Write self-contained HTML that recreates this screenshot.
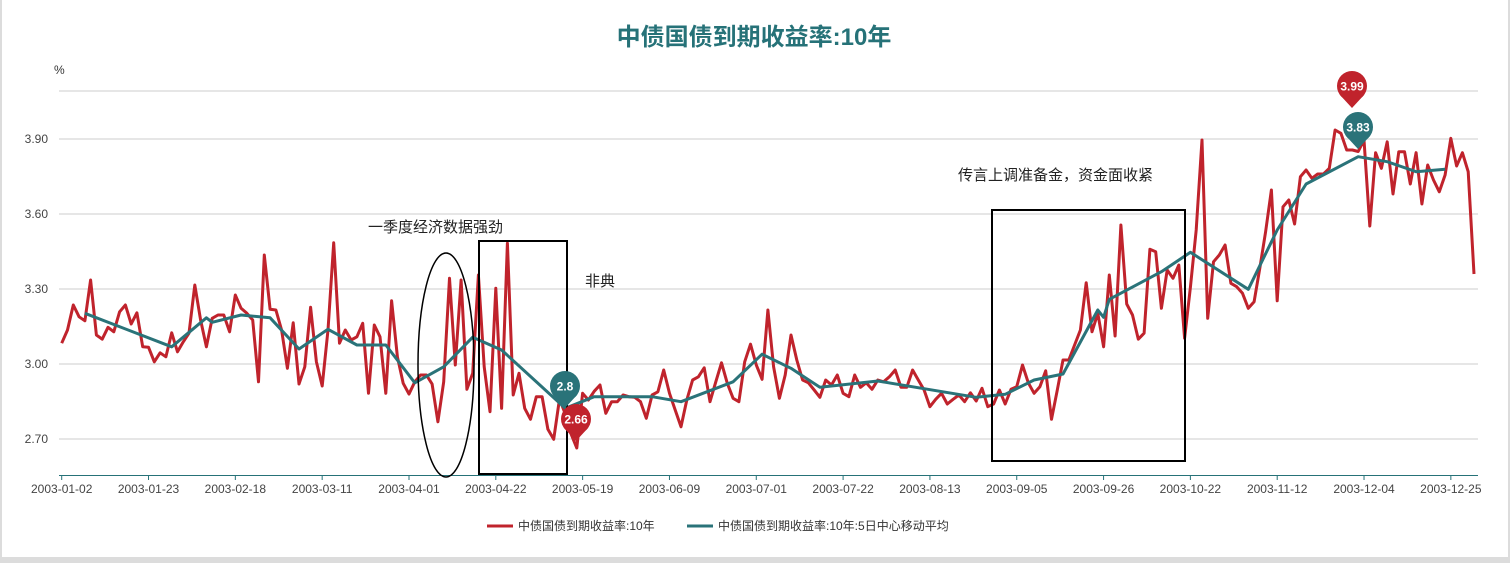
<!DOCTYPE html>
<html><head><meta charset="utf-8"><style>
body{margin:0;background:#fff;}
#wrap{position:relative;width:1510px;height:563px;background:#dcdcdc;}
#card{position:absolute;left:2px;top:0;width:1506px;height:557px;background:#fff;}
svg{position:absolute;left:0;top:0;}
text{font-family:"Liberation Sans","Noto Sans CJK SC",sans-serif;}
</style></head><body>
<div id="wrap"><div id="card"></div>
<svg id="chart" width="1510" height="563"></svg></div>
<script>
const xLabels=["2003-01-02","2003-01-23","2003-02-18","2003-03-11","2003-04-01","2003-04-22","2003-05-19","2003-06-09","2003-07-01","2003-07-22","2003-08-13","2003-09-05","2003-09-26","2003-10-22","2003-11-12","2003-12-04","2003-12-25"];
const yTicks=[2.70,3.00,3.30,3.60,3.90];
const yieldVals=[3.083,3.136,3.236,3.189,3.173,3.336,3.116,3.099,3.147,3.129,3.209,3.236,3.160,3.205,3.069,3.067,3.009,3.045,3.029,3.125,3.049,3.089,3.123,3.316,3.176,3.069,3.183,3.196,3.196,3.129,3.276,3.223,3.203,3.176,2.929,3.436,3.219,3.216,3.136,2.983,3.165,2.920,2.989,3.227,3.009,
2.912,3.136,3.485,3.083,3.136,3.096,3.109,3.163,2.883,3.156,3.109,2.883,3.253,3.029,2.923,2.880,2.929,2.956,2.956,2.920,2.769,2.929,3.343,2.996,3.336,2.899,2.963,3.356,2.989,2.809,3.303,2.823,3.483,2.876,2.963,2.823,2.779,2.869,2.869,2.739,2.699,2.86,2.80,2.72,2.664,2.883,2.856,2.891,
2.916,2.803,2.849,2.849,2.876,2.869,2.867,2.849,2.783,2.876,2.889,2.976,2.883,2.816,2.749,2.856,2.936,2.949,2.985,2.849,2.929,3.005,2.923,2.863,2.849,3.009,3.079,2.996,2.939,3.216,2.989,2.863,2.956,3.116,3.016,2.936,2.925,2.896,2.867,2.936,2.916,2.956,2.883,2.869,2.956,2.907,2.925,2.899,2.936,
2.929,2.949,2.976,2.907,2.907,2.976,2.936,2.896,2.829,2.859,2.883,2.840,2.859,2.876,2.849,2.885,2.852,2.903,2.829,2.840,2.896,2.840,2.899,2.909,2.996,2.925,2.883,2.909,2.973,2.779,2.896,3.016,3.016,3.076,3.136,3.325,3.129,3.203,3.069,3.356,3.112,3.556,3.240,3.196,3.099,3.123,3.459,3.449,3.223,3.376,3.343,3.396,3.103,3.307,
3.536,3.896,3.183,3.409,3.436,3.476,3.323,3.309,3.283,3.223,3.249,3.383,3.529,3.696,3.253,3.629,3.656,3.560,3.749,3.776,3.743,3.760,3.760,3.783,3.936,3.923,3.856,3.856,3.85,3.896,3.552,3.845,3.783,3.889,3.680,3.849,3.849,3.720,3.845,3.640,3.796,3.736,3.689,3.756,3.903,3.792,3.845,3.769,3.360];
const maIdx=[4,19,25,26,31,36,41,46,51,56,61,66,71,76,87,92,102,107,116,121,126,131,141,158,163,168,173,179,180,181,190,195,205,210,215,224,229,234,239];
const maVals=[3.203,3.069,3.185,3.167,3.196,3.185,3.060,3.139,3.076,3.076,2.925,2.989,3.107,3.056,2.823,2.869,2.869,2.849,2.929,3.039,2.983,2.907,2.932,2.867,2.879,2.936,2.960,3.216,3.187,3.259,3.369,3.447,3.299,3.536,3.720,3.829,3.809,3.769,3.779];

const NS="http://www.w3.org/2000/svg";
const svg=document.getElementById('chart');
const X0=61.7,X1=1474,Y0=364,YS=250;
const N=yieldVals.length;
const xs=i=>X0+i*(X1-X0)/(N-1);
const ys=v=>Y0-(v-3.0)*YS;
function el(tag,attrs,parent){const e=document.createElementNS(NS,tag);for(const k in attrs)e.setAttribute(k,attrs[k]);(parent||svg).appendChild(e);return e;}

let t=el('text',{x:754,y:45,'text-anchor':'middle','font-size':24,'font-weight':'bold',fill:'#267278'});t.textContent='中债国债到期收益率:10年';


t=el('text',{x:54,y:74,'font-size':12,fill:'#333'});t.textContent='%';



let g=el('line',{x1:59,x2:1478,y1:91,y2:91,stroke:'#ccc'});


yTicks.forEach(v=>{
 const l=el('line',{x1:59,x2:1478,y1:ys(v),y2:ys(v),stroke:'#ccc'});
 
 
 const tx=el('text',{x:48,y:ys(v)+4,'text-anchor':'end','font-size':12,fill:'#444'});tx.textContent=v.toFixed(2);
 
 
});
let ax=el('line',{x1:59,x2:1478,y1:475.5,y2:475.5,stroke:'#267278','stroke-width':1});


xLabels.forEach((lab,k)=>{
 const x=xs(k*15);
 const tk=el('line',{x1:x,x2:x,y1:475,y2:480,stroke:'#267278'});
 
 
 const tx=el('text',{x:x,y:493,'text-anchor':'middle','font-size':12,fill:'#444'});tx.textContent=lab;
 
 
});
let p=el('polyline',{points:yieldVals.map((v,i)=>xs(i).toFixed(1)+','+ys(v).toFixed(1)).join(' '),fill:'none',stroke:'#c0232c','stroke-width':3,'stroke-linejoin':'round'});


p=el('polyline',{points:maVals.map((v,i)=>xs(maIdx[i]).toFixed(1)+','+ys(v).toFixed(1)).join(' '),fill:'none',stroke:'#2a7379','stroke-width':3,'stroke-linejoin':'round'});



let a=el('ellipse',{cx:446,cy:365,rx:28,ry:112,fill:'none',stroke:'#000','stroke-width':1.5});


a=el('rect',{x:479,y:241,width:88,height:233,fill:'none',stroke:'#000','stroke-width':2});


a=el('rect',{x:992,y:210,width:193,height:251,fill:'none',stroke:'#000','stroke-width':2});


[[368,232,'一季度经济数据强劲','q1-annotation'],[585,286,'非典','sars-annotation'],[958,180,'传言上调准备金，资金面收紧','reserve-annotation']].forEach(d=>{
 const tx=el('text',{x:d[0],y:d[1],'font-size':15,fill:'#222'});tx.textContent=d[2];
 
 
});

function pin(x,tipY,label,color,name){
 const cy=tipY-22,r=15;
 const gg=el('g',{});
 
 
 el('path',{d:`M${x-r*0.8},${cy+r*0.6} L${x},${tipY} L${x+r*0.8},${cy+r*0.6} Z`,fill:color},gg);
 el('circle',{cx:x,cy:cy,r:r,fill:color},gg);
 const tx=el('text',{x:x,y:cy+4.5,'text-anchor':'middle','font-size':12,'font-weight':'bold',fill:'#fff'},gg);tx.textContent=label;
}
pin(1352,108,'3.99','#c0232c','max-pin-yield');
pin(1358,149,'3.83','#2a7379','max-pin-ma');
pin(565,408,'2.8','#2a7379','min-pin-ma');
pin(576,441,'2.66','#c0232c','min-pin-yield');

[[487,'#c0232c','中债国债到期收益率:10年','legend-yield'],[687,'#2a7379','中债国债到期收益率:10年:5日中心移动平均','legend-ma']].forEach(d=>{
 const gg=el('g',{});
 
 
 el('line',{x1:d[0],x2:d[0]+26,y1:526,y2:526,stroke:d[1],'stroke-width':3},gg);
 const tx=el('text',{x:d[0]+31,y:530,'font-size':12,fill:'#333'},gg);tx.textContent=d[2];
});
</script></body></html>
